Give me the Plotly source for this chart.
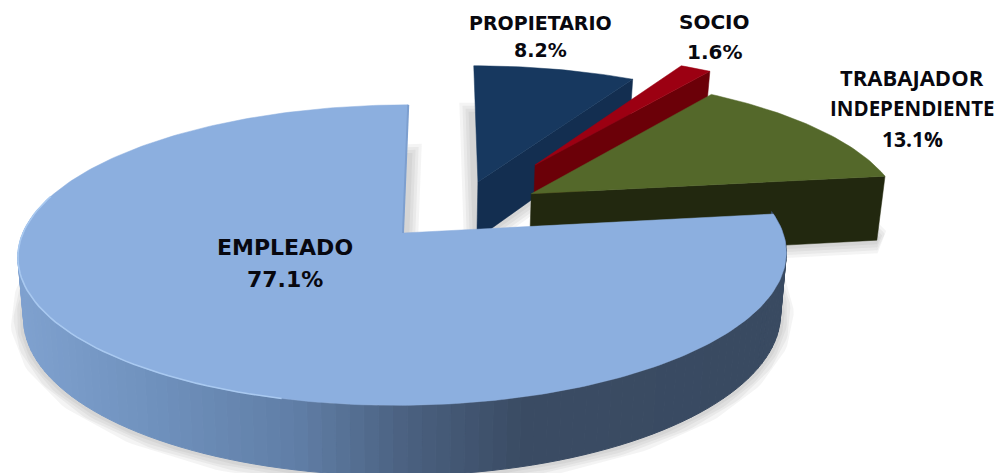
import numpy as np
import plotly.graph_objects as go

# --- data ---
labels = ["PROPIETARIO", "SOCIO", "TRABAJADOR<br>INDEPENDIENTE", "EMPLEADO"]
values = [8.2, 1.6, 13.1, 77.1]

# --- styling / layout constants ---
TOP = ["#17385f", "#9c0012", "#54682a", "#8cafdf"]
CUT = ["#132e50", "#6b0008", "#22280f", "#7d9fcf"]
PULL = [(0.202, 0.366), (0.365, 0.496), (0.347, 0.278), (0.0, 0.0)]
ZDEPTH = [1.0, 1.0, 1.13, 1.0]
LABEL_XY = [(540, [23, 50]), (714, [22, 52]), (912, [77, 108, 139]), (285, [247, 279])]
LABEL_FONT = [("DejaVu Sans", [19, 19]), ("DejaVu Sans", [20, 20]),
              ("Open Sans", [22, 20.5, 21]), ("DejaVu Sans", [22, 22])]

CX, CY, R, RY, K, SHEAR, DEPTH, SHRINK = 403, 233, 380, 147, 0.147, 6, 60, 0.015


def project(u, v, z=0.0):
    u, v = np.asarray(u, float), np.asarray(v, float)
    w = 1 + K * v
    x = CX + (R * (1 - SHRINK * z) * u + SHEAR * v) / w
    y = CY - RY * v / w + DEPTH * z / w
    return x, y


def arc(t0, t1, off, z=0.0, n=None):
    n = n or max(int(abs(t1 - t0)) + 2, 3)
    t = np.radians(np.linspace(t0, t1, n))
    return project(np.sin(t) + off[0], np.cos(t) + off[1], z)


def wedge(t0, t1, off, z=0.0):
    x, y = arc(t0, t1, off, z)
    ax, ay = project(off[0], off[1], z)
    return np.r_[ax, x, ax], np.r_[ay, y, ay]


def poly(x, y, fill, line=None, width=0.5):
    return go.Scatter(x=x, y=y, mode="lines", fill="toself", fillcolor=fill,
                      line=dict(color=line or fill, width=width),
                      hoverinfo="skip", showlegend=False)


def path(x, y, color, width):
    return go.Scatter(x=x, y=y, mode="lines", line=dict(color=color, width=width),
                      hoverinfo="skip", showlegend=False)


def mix(stops, x):
    xs = [s[0] for s in stops]
    c = [np.interp(x, xs, [s[1][i] for s in stops]) for i in range(3)]
    return "rgb(%d,%d,%d)" % tuple(c)


edges = np.r_[0, np.cumsum(values)] * 3.6
fig = go.Figure()

# soft shadows under each slice's base
for i in (0, 2, 3):
    bx, by = wedge(edges[i], edges[i + 1], PULL[i], ZDEPTH[i])
    for w_ in (26, 20, 14, 8):
        fig.add_trace(path(bx, by, "rgba(60,60,60,0.055)", w_))

# back slices, farthest first
for i in (0, 1, 2):
    t1 = edges[i + 1]
    z = ZDEPTH[i]
    x0, y0 = project(PULL[i][0], PULL[i][1], 0)
    x1, y1 = project(PULL[i][0], PULL[i][1], z)
    ex0, ey0 = arc(t1, t1, PULL[i], 0, 3)
    ex1, ey1 = arc(t1, t1, PULL[i], z, 3)
    fig.add_trace(poly([x0, ex0[0], ex1[0], x1, x0], [y0, ey0[0], ey1[0], y1, y0], CUT[i]))
    tx, ty = wedge(edges[i], t1, PULL[i], 0)
    fig.add_trace(poly(tx, ty, TOP[i]))

# main slice: outer wall with a horizontal gradient
WALL = [(17, (128, 162, 208)), (150, (112, 146, 190)), (300, (96, 126, 166)),
        (400, (76, 98, 130)), (520, (59, 76, 100)), (790, (57, 74, 97))]
t0, t1 = edges[3], edges[4]
ts = np.linspace(t0 - 1, 285, 110)
for a, b in zip(ts[:-1], ts[1:]):
    xa, ya = arc(a, b, PULL[3], 0, 2)
    xb, yb = arc(b, a, PULL[3], 1, 2)
    c = mix(WALL, float(np.mean(np.r_[xa, xb])))
    fig.add_trace(poly(np.r_[xa, xb, xa[0]], np.r_[ya, yb, ya[0]], c, width=1))

tx, ty = wedge(t0, t1, PULL[3], 0)
fig.add_trace(poly(tx, ty, TOP[3]))

# edge along the vertical cut and light rim on the front-left
ex, ey = wedge(t1, t1, PULL[3], 0)
fig.add_trace(path(ex[:2], ey[:2], CUT[3], 2))
rx, ry = arc(195, 285, PULL[3], 0, 60)
fig.add_trace(path(rx, ry, "#a9c9f0", 1.6))

# text
ann = []
for lab, v, (lx, ys), (fam, sizes) in zip(labels, values, LABEL_XY, LABEL_FONT):
    lines = lab.split("<br>") + [f"{v:.1f}%"]
    for s, y, sz in zip(lines, ys, sizes):
        ann.append(dict(x=lx, y=y, text=f"<b>{s}</b>", showarrow=False, xref="x", yref="y",
                        font=dict(family=fam, size=sz, color="#08080f")))

fig.update_layout(width=997, height=473, margin=dict(l=0, r=0, t=0, b=0),
                  paper_bgcolor="white", plot_bgcolor="white", annotations=ann,
                  xaxis=dict(visible=False, range=[0, 997], fixedrange=True),
                  yaxis=dict(visible=False, range=[473, 0], fixedrange=True))
fig.write_html("out.html", config=dict(displayModeBar=False),
               post_script="document.body.style.margin='0';document.body.style.overflow='hidden';")
